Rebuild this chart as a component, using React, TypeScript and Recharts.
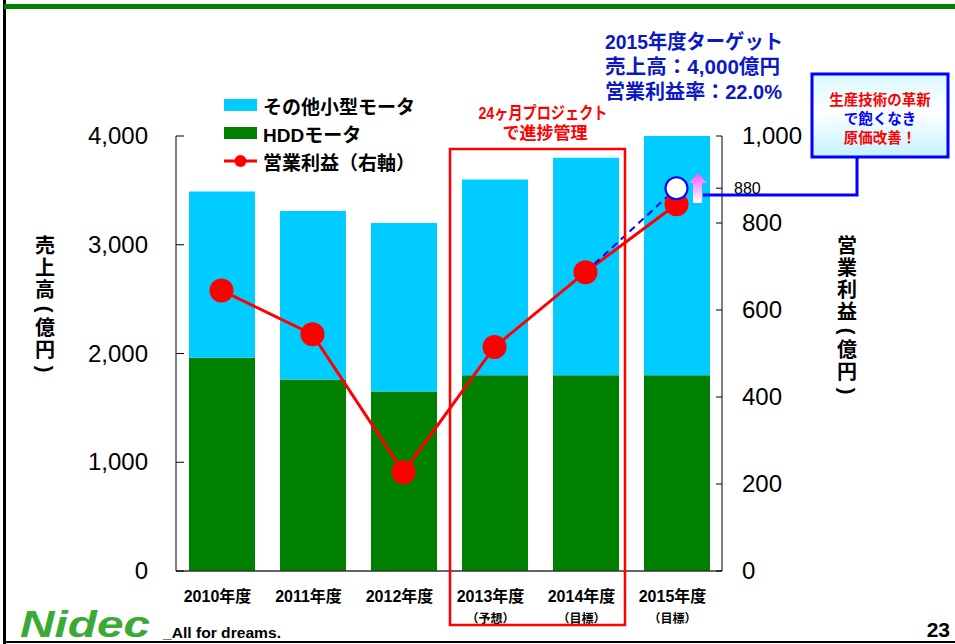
import React from 'react';
import { ComposedChart, Bar, Line, XAxis, YAxis, Legend } from 'recharts';

const years = ['2010年度', '2011年度', '2012年度', '2013年度', '2014年度', '2015年度'];
const yearNotes = ['', '', '', '（予想）', '（目標）', '（目標）'];
const hddSales = [1960, 1760, 1650, 1800, 1800, 1800];
const otherSales = [1530, 1550, 1550, 1800, 2000, 2200];
const profit = [645, 544, 227, 515, 687, 843];
const profitTarget = [null, null, null, null, 687, 880];
const salesTicks = [0, 1000, 2000, 3000, 4000];
const profitTicks = [0, 200, 400, 600, 800, 880, 1000];

const data = years.map((name, i) => ({
  name,
  note: yearNotes[i],
  hdd: hddSales[i],
  other: otherSales[i],
  profit: profit[i],
  target: profitTarget[i],
}));

const FONT = "'Liberation Sans', 'Noto Sans CJK JP', sans-serif";
const CYAN = '#00ccff';
const GREEN = '#008000';
const RED = '#ff0000';
const BLUE = '#0000ff';
const NAVY = '#0c18c4';

const fmt = (v: number) => v.toLocaleString('en-US');

const SalesTick = (props: any) => {
  const { x, y, payload } = props;
  return (
    <g>
      <line x1={x} x2={x + 8} y1={y} y2={y} stroke="#000" />
      <text x={x - 28} y={y + 8} textAnchor="end" fontSize={24} fontFamily={FONT} fill="#000">
        {fmt(payload.value)}
      </text>
    </g>
  );
};

const ProfitTick = (props: any) => {
  const { x, y, payload } = props;
  const small = payload.value === 880;
  return (
    <g>
      <line x1={x - 6} x2={x} y1={y} y2={y} stroke="#000" />
      <text
        x={small ? x + 12 : x + 20}
        y={small ? y + 6 : y + 8}
        textAnchor="start"
        fontSize={small ? 16 : 24}
        fontFamily={FONT}
        fill="#000"
      >
        {fmt(payload.value)}
      </text>
    </g>
  );
};

const YearTick = (props: any) => {
  const { x, y, index } = props;
  const note = yearNotes[index];
  return (
    <g>
      <text x={x - 4} y={y + 31} textAnchor="middle" fontSize={16} fontWeight="bold" fontFamily={FONT} fill="#000">
        {years[index]}
      </text>
      {note && (
        <text x={x - 4} y={y + 52} textAnchor="middle" fontSize={12} fontWeight="bold" fontFamily={FONT} fill="#000">
          {note}
        </text>
      )}
    </g>
  );
};

const TargetDot = (props: any) => {
  const { cx, cy, index } = props;
  if (index !== 5 || cx == null) return <g key={`t${index}`} />;
  return <circle key={`t${index}`} cx={cx} cy={cy} r={11} fill="#fff" stroke={BLUE} strokeWidth={2} />;
};

const legendRows = [
  { label: 'その他小型モータ', kind: 'box', color: CYAN },
  { label: 'HDDモータ', kind: 'box', color: GREEN },
  { label: '営業利益（右軸）', kind: 'line', color: RED },
];

const renderLegend = () => (
  <div style={{ fontFamily: FONT }}>
    {legendRows.map((r) => (
      <div key={r.label} style={{ display: 'flex', alignItems: 'center', height: 28 }}>
        <svg width={33} height={14} style={{ marginRight: 6 }}>
          {r.kind === 'box' ? (
            <rect x={0} y={1} width={33} height={12} fill={r.color} />
          ) : (
            <g>
              <line x1={0} x2={33} y1={7} y2={7} stroke={r.color} strokeWidth={3} />
              <circle cx={16.5} cy={7} r={6} fill={r.color} />
            </g>
          )}
        </svg>
        <span style={{ fontSize: 19, fontWeight: 'bold', color: '#000', whiteSpace: 'nowrap' }}>{r.label}</span>
      </div>
    ))}
  </div>
);

// stacked vertical title; parentheses are rotated ASCII brackets
const VerticalTitle = ({ x, y, text }: { x: number; y: number; text: string }) => {
  let pos = y;
  const items = text.split('').map((c, i) => {
    const paren = c === '(' || c === ')';
    const h = paren ? 16 : 22;
    const cy = pos + h / 2;
    pos += h;
    return paren ? (
      <text key={i} x={x} y={cy} dominantBaseline="central" transform={`rotate(90 ${x} ${cy})`}>
        {c}
      </text>
    ) : (
      <text key={i} x={x} y={cy} dominantBaseline="central">
        {c}
      </text>
    );
  });
  return (
    <g fontSize={20} fontWeight="bold" fontFamily={FONT} fill="#000" textAnchor="middle">
      {items}
    </g>
  );
};

const Overlay = () => (
  <svg width={955} height={644} style={{ position: 'absolute', left: 0, top: 0, pointerEvents: 'none' }}>
    <defs>
      <linearGradient id="boxFill" x1="0" y1="0" x2="0" y2="1">
        <stop offset="0" stopColor="#d8f8ff" />
        <stop offset="0.45" stopColor="#ffffff" />
        <stop offset="1" stopColor="#c4f2ff" />
      </linearGradient>
      <linearGradient id="arrowFill" x1="0" y1="0" x2="0" y2="1">
        <stop offset="0" stopColor="#ff55ff" />
        <stop offset="1" stopColor="#ffffff" />
      </linearGradient>
    </defs>

    {/* page frame */}
    <rect x={3} y={0} width={3} height={644} fill="#000" />
    <rect x={4} y={4} width={951} height={5} fill={GREEN} />
    <rect x={3} y={641} width={952} height={2} fill="#000" />

    {/* axis titles */}
    <VerticalTitle x={45} y={235} text="売上高(億円)" />
    <VerticalTitle x={847} y={235} text="営業利益(億円)" />

    {/* project box */}
    <rect x={450} y={149} width={175} height={476} fill="none" stroke={RED} strokeWidth={2.5} />
    <text x={543} y={119} textAnchor="middle" fontSize={17} fontWeight="bold" fill={RED} fontFamily={FONT}
      textLength={129} lengthAdjust="spacingAndGlyphs">24ヶ月プロジェクト</text>
    <text x={545} y={139} textAnchor="middle" fontSize={17} fontWeight="bold" fill={RED} fontFamily={FONT}>で進捗管理</text>

    {/* 2015 target */}
    <g fontSize={20} fontWeight="bold" fill={NAVY} fontFamily={FONT}>
      <text x={605} y={49} textLength={178} lengthAdjust="spacingAndGlyphs">2015年度ターゲット</text>
      <text x={605} y={74} textLength={175} lengthAdjust="spacingAndGlyphs">売上高：4,000億円</text>
      <text x={605} y={99} textLength={177} lengthAdjust="spacingAndGlyphs">営業利益率：22.0%</text>
    </g>

    {/* callout */}
    <polyline points="857,157 857,195 703,195" fill="none" stroke={BLUE} strokeWidth={3} />
    <rect x={812} y={74} width={136} height={83} fill="url(#boxFill)" stroke={BLUE} strokeWidth={3} />
    <g fontSize={14.5} fontWeight="bold" fontFamily={FONT} textAnchor="middle">
      <text x={880} y={105} fill={RED}>生産技術の革新</text>
      <text x={880} y={124} fill={BLUE}>で飽くなき</text>
      <text x={880} y={143} fill={RED}>原価改善！</text>
    </g>
    <polygon points="698,173 707,183 702,183 702,203 693,203 693,183 689,183" fill="url(#arrowFill)" />

    {/* logo and page number */}
    <text x={20} y={637} fontSize={36} fontWeight="900" fontStyle="italic" fill="#3aaa35" fontFamily={FONT}
      textLength={130} lengthAdjust="spacingAndGlyphs">Nidec</text>
    <text x={163} y={638} fontSize={14} fontWeight="bold" fill="#000" fontFamily={FONT}
      textLength={118} lengthAdjust="spacingAndGlyphs">_All for dreams.</text>
    <text x={950} y={637} textAnchor="end" fontSize={21} fontWeight="bold" fill="#000" fontFamily={FONT}>23</text>
  </svg>
);

export default function App() {
  return (
    <div style={{ position: 'absolute', left: 0, top: 0, width: 955, height: 644, background: '#fff', overflow: 'hidden' }}>
      <ComposedChart width={955} height={644} data={data} margin={{ top: 136, right: 153, bottom: 13, left: 96 }}>
        <XAxis
          dataKey="name"
          height={60}
          tickSize={0}
          tickMargin={0}
          tick={<YearTick />}
          axisLine={{ stroke: '#333', strokeWidth: 1.5 }}
          tickLine={false}
          interval={0}
        />
        <YAxis
          yAxisId="sales"
          domain={[0, 4000]}
          ticks={salesTicks}
          width={80}
          tickSize={0}
          tickMargin={0}
          tickLine={false}
          tick={<SalesTick />}
          axisLine={{ stroke: '#000' }}
          interval={0}
        />
        <YAxis
          yAxisId="profit"
          orientation="right"
          domain={[0, 1000]}
          ticks={profitTicks}
          width={80}
          tickSize={0}
          tickMargin={0}
          tickLine={false}
          tick={<ProfitTick />}
          axisLine={{ stroke: '#000' }}
          interval={0}
        />
        <Legend
          content={renderLegend}
          layout="vertical"
          align="center"
          verticalAlign="middle"
          wrapperStyle={{ position: 'absolute', left: 224, top: 91, width: 'auto', height: 'auto' }}
        />
        <Bar yAxisId="sales" dataKey="hdd" stackId="s" fill={GREEN} barSize={66} isAnimationActive={false} />
        <Bar yAxisId="sales" dataKey="other" stackId="s" fill={CYAN} barSize={66} isAnimationActive={false} />
        <Line
          yAxisId="profit"
          dataKey="profit"
          stroke={RED}
          strokeWidth={3}
          dot={{ r: 12, fill: RED, stroke: 'none' }}
          activeDot={false}
          isAnimationActive={false}
        />
        <Line
          yAxisId="profit"
          dataKey="target"
          stroke={BLUE}
          strokeWidth={2}
          strokeDasharray="7 5"
          dot={<TargetDot />}
          activeDot={false}
          connectNulls={false}
          isAnimationActive={false}
        />
      </ComposedChart>
      <Overlay />
    </div>
  );
}
